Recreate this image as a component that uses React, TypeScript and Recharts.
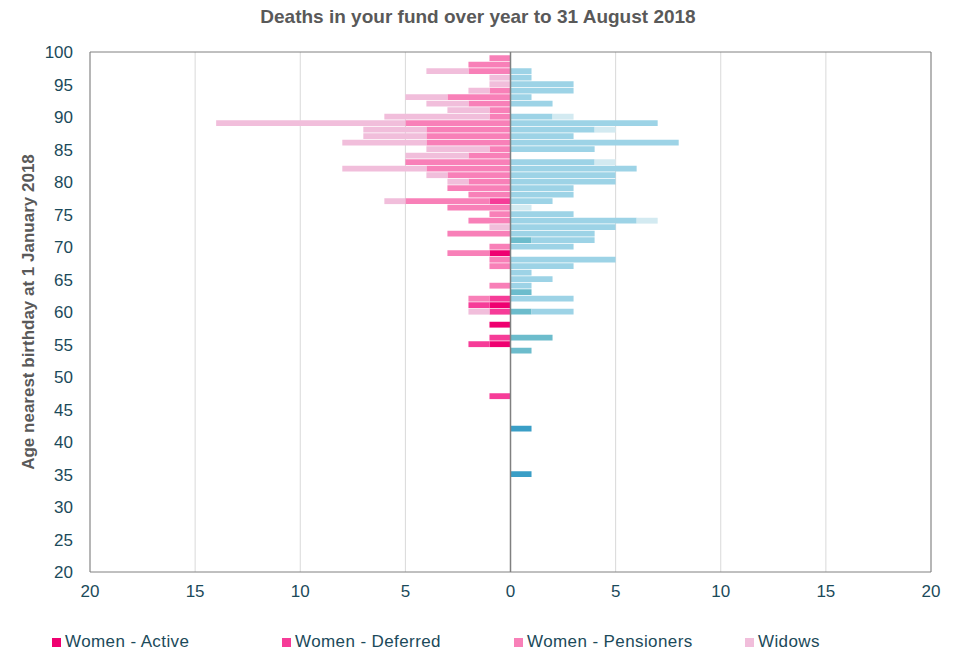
import { BarChart, Bar, XAxis, YAxis, CartesianGrid, ReferenceLine, Legend } from "recharts";

// ages, top (99) down to 35; values are counts of deaths per age
const ages = [
  99, 98, 97, 96, 95, 94, 93, 92, 91, 90,
  89, 88, 87, 86, 85, 84, 83, 82, 81, 80,
  79, 78, 77, 76, 75, 74, 73, 72, 71, 70,
  69, 68, 67, 66, 65, 64, 63, 62, 61, 60,
  59, 58, 57, 56, 55, 54, 53, 52, 51, 50,
  49, 48, 47, 46, 45, 44, 43, 42, 41, 40,
  39, 38, 37, 36, 35,
];

const womenActive = [
  0, 0, 0, 0, 0, 0, 0, 0, 0, 0,
  0, 0, 0, 0, 0, 0, 0, 0, 0, 0,
  0, 0, 0, 0, 0, 0, 0, 0, 0, 0,
  1, 0, 0, 0, 0, 0, 0, 0, 1, 0,
  0, 1, 0, 0, 1, 0, 0, 0, 0, 0,
  0, 0, 0, 0, 0, 0, 0, 0, 0, 0,
  0, 0, 0, 0, 0,
];
const womenDeferred = [
  0, 0, 0, 0, 0, 0, 0, 0, 0, 0,
  0, 0, 0, 0, 0, 0, 0, 0, 0, 0,
  0, 0, 1, 0, 0, 0, 0, 0, 0, 0,
  0, 0, 0, 0, 0, 0, 0, 1, 1, 1,
  0, 0, 0, 1, 1, 0, 0, 0, 0, 0,
  0, 0, 1, 0, 0, 0, 0, 0, 0, 0,
  0, 0, 0, 0, 0,
];
const womenPensioners = [
  1, 2, 2, 0, 0, 1, 3, 2, 1, 1,
  5, 4, 4, 4, 1, 2, 5, 4, 3, 2,
  3, 2, 4, 3, 1, 2, 0, 3, 0, 1,
  2, 1, 1, 0, 0, 1, 0, 1, 0, 0,
  0, 0, 0, 0, 0, 0, 0, 0, 0, 0,
  0, 0, 0, 0, 0, 0, 0, 0, 0, 0,
  0, 0, 0, 0, 0,
];
const widows = [
  0, 0, 2, 1, 1, 1, 2, 2, 2, 5,
  9, 3, 3, 4, 3, 3, 0, 4, 1, 1,
  0, 0, 1, 0, 0, 0, 1, 0, 0, 0,
  0, 0, 0, 0, 0, 0, 0, 0, 0, 1,
  0, 0, 0, 0, 0, 0, 0, 0, 0, 0,
  0, 0, 0, 0, 0, 0, 0, 0, 0, 0,
  0, 0, 0, 0, 0,
];
const menActive = [
  0, 0, 0, 0, 0, 0, 0, 0, 0, 0,
  0, 0, 0, 0, 0, 0, 0, 0, 0, 0,
  0, 0, 0, 0, 0, 0, 0, 0, 0, 0,
  0, 0, 0, 0, 0, 0, 0, 0, 0, 0,
  0, 0, 0, 0, 0, 0, 0, 0, 0, 0,
  0, 0, 0, 0, 0, 0, 0, 1, 0, 0,
  0, 0, 0, 0, 1,
];
const menDeferred = [
  0, 0, 0, 0, 0, 0, 0, 0, 0, 0,
  0, 0, 0, 0, 0, 0, 0, 0, 0, 0,
  0, 0, 0, 0, 0, 0, 0, 0, 1, 0,
  0, 0, 0, 0, 0, 0, 1, 0, 0, 1,
  0, 0, 0, 2, 0, 1, 0, 0, 0, 0,
  0, 0, 0, 0, 0, 0, 0, 0, 0, 0,
  0, 0, 0, 0, 0,
];
const menPensioners = [
  0, 0, 1, 1, 3, 3, 1, 2, 0, 2,
  7, 4, 3, 8, 4, 0, 4, 6, 5, 5,
  3, 3, 2, 0, 3, 6, 5, 4, 3, 3,
  0, 5, 3, 1, 2, 1, 0, 3, 0, 2,
  0, 0, 0, 0, 0, 0, 0, 0, 0, 0,
  0, 0, 0, 0, 0, 0, 0, 0, 0, 0,
  0, 0, 0, 0, 0,
];
const widowers = [
  0, 0, 0, 0, 0, 0, 0, 0, 0, 1,
  0, 1, 0, 0, 0, 0, 1, 0, 0, 0,
  0, 0, 0, 1, 0, 1, 0, 0, 0, 0,
  0, 0, 0, 0, 0, 0, 0, 0, 0, 0,
  0, 0, 0, 0, 0, 0, 0, 0, 0, 0,
  0, 0, 0, 0, 0, 0, 0, 0, 0, 0,
  0, 0, 0, 0, 0,
];

const xTicks = [-20, -15, -10, -5, 0, 5, 10, 15, 20];
const yTicks = [20, 25, 30, 35, 40, 45, 50, 55, 60, 65, 70, 75, 80, 85, 90, 95, 100];

const series = [
  { key: "wActive", name: "Women - Active", color: "#ef0070", legend: true },
  { key: "wDeferred", name: "Women - Deferred", color: "#f63c98", legend: true },
  { key: "wPensioners", name: "Women - Pensioners", color: "#f880b8", legend: true },
  { key: "widows", name: "Widows", color: "#f1bedb", legend: true },
  { key: "mActive", name: "Men - Active", color: "#3a9ec6", legend: false },
  { key: "mDeferred", name: "Men - Deferred", color: "#6cbccc", legend: false },
  { key: "mPensioners", name: "Men - Pensioners", color: "#9dd3e6", legend: false },
  { key: "widowers", name: "Widowers", color: "#d3eaf1", legend: false },
];

const rows = ages.map((age, i) => ({
  age,
  wActive: -womenActive[i],
  wDeferred: -womenDeferred[i],
  wPensioners: -womenPensioners[i],
  widows: -widows[i],
  mActive: menActive[i],
  mDeferred: menDeferred[i],
  mPensioners: menPensioners[i],
  widowers: widowers[i],
}));

const FONT = "'Liberation Sans', Arial, sans-serif";
const TEXT = "#1b4a5a";
const legendX = [52, 282, 514, 745];

function LegendBox() {
  const items = series.filter((s) => s.legend);
  return (
    <div style={{ position: "relative", width: 962, height: 24, fontFamily: FONT }}>
      {items.map((s, i) => (
        <div
          key={s.key}
          style={{ position: "absolute", left: legendX[i], top: 0, height: 24, display: "flex", alignItems: "center" }}
        >
          <span style={{ width: 9, height: 9, background: s.color, display: "inline-block", marginRight: 4 }} />
          <span style={{ fontSize: 17, color: TEXT, letterSpacing: 0.4 }}>{s.name}</span>
        </div>
      ))}
    </div>
  );
}

export default function App() {
  return (
    <div style={{ position: "absolute", left: 0, top: 0, width: 962, height: 653, background: "#fff", fontFamily: FONT }}>
      <div
        style={{
          position: "absolute",
          left: 0,
          top: 6,
          width: 956,
          textAlign: "center",
          fontSize: 19,
          fontWeight: "bold",
          color: "#595959",
          zIndex: 2,
        }}
      >
        Deaths in your fund over year to 31 August 2018
      </div>
      <BarChart
        width={962}
        height={653}
        data={rows}
        layout="vertical"
        stackOffset="sign"
        margin={{ top: 52, right: 31, bottom: 27, left: 0 }}
      >
        <CartesianGrid horizontal={false} stroke="#d9d9d9" />
        <XAxis
          type="number"
          domain={[-20, 20]}
          ticks={xTicks}
          tickFormatter={(v: number) => String(Math.abs(v))}
          tickLine={false}
          tickMargin={7}
          height={30}
          axisLine={{ stroke: "#808080" }}
          tick={{ fill: TEXT, fontSize: 17, fontFamily: FONT }}
        />
        <YAxis
          type="number"
          dataKey="age"
          domain={[20, 100]}
          ticks={yTicks}
          reversed
          tickLine={false}
          tickMargin={11}
          width={90}
          axisLine={{ stroke: "#808080" }}
          tick={{ fill: TEXT, fontSize: 17, fontFamily: FONT }}
          label={{
            content: () => (
              <text
                x={28}
                y={312}
                transform="rotate(-90 28 312)"
                textAnchor="middle"
                dominantBaseline="central"
                fill="#595959"
                fontSize={17}
                fontWeight="bold"
                fontFamily={FONT}
              >
                Age nearest birthday at 1 January 2018
              </text>
            ),
          }}
        />
        {series.map((s) => (
          <Bar
            key={s.key}
            dataKey={s.key}
            name={s.name}
            stackId="deaths"
            fill={s.color}
            barSize={6.5}
            isAnimationActive={false}
          />
        ))}
        <ReferenceLine x={0} stroke="#808080" strokeWidth={1.5} />
        <ReferenceLine y={100} stroke="#808080" />
        <ReferenceLine x={20} stroke="#808080" />
        <Legend
          verticalAlign="bottom"
          content={() => <LegendBox />}
          wrapperStyle={{ top: 630, left: 0, width: 962, height: 24 }}
        />
      </BarChart>
    </div>
  );
}
